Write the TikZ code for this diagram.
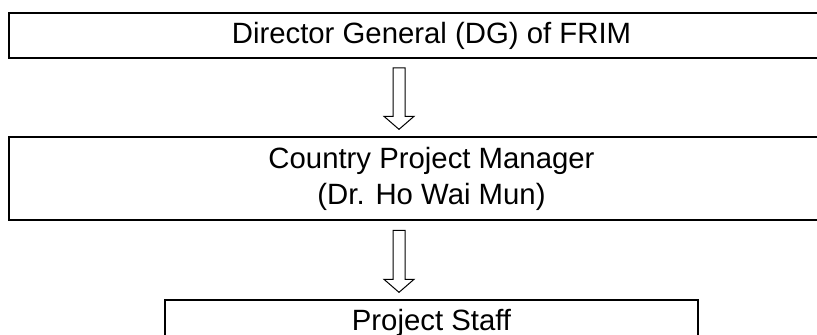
\documentclass[tikz,border=0pt]{standalone}
\usepackage{fontspec}
\setmainfont{Liberation Sans}
\usetikzlibrary{positioning, calc}

\begin{document}
\begin{tikzpicture}[
x=0.75pt, y=0.75pt,
every node/.style={font=\fontsize{22}{27}\selectfont},
box/.style={draw, line width=1.5pt, rectangle, align=center, inner sep=0pt},
hollow/.style={draw, line width=0.75pt, line join=miter}
]

\clip (0,0) rectangle (817,-335);

\node[box, minimum width=633.75pt, minimum height=33.75pt] (dg) at (431.5,-35.5)
{Director General (DG) of FRIM};

\node[box, below=58pt of dg, minimum width=633.75pt, minimum height=62.25pt] (cpm)
{Country Project Manager \\ (Dr. Ho Wai Mun)};

\node[box, below=58.5pt of cpm, minimum width=399.75pt, minimum height=33.75pt] (staff)
{Project Staff};

% hollow block arrows
\draw[hollow] ($(dg.south)+(-38.5,-9)$) -- ++(12,0) -- ($(cpm.north)+(-26.5,20)$) -- ++(9,0)
  -- ($(cpm.north)+(-32.5,7)$) -- ++(-15,13) -- ++(9,0) -- cycle;
\draw[hollow] ($(cpm.south)+(-38.5,-9)$) -- ++(12,0) -- ($(staff.north)+(-26.5,20)$) -- ++(9,0)
  -- ($(staff.north)+(-32.5,7)$) -- ++(-15,13) -- ++(9,0) -- cycle;

\end{tikzpicture}
\end{document}
